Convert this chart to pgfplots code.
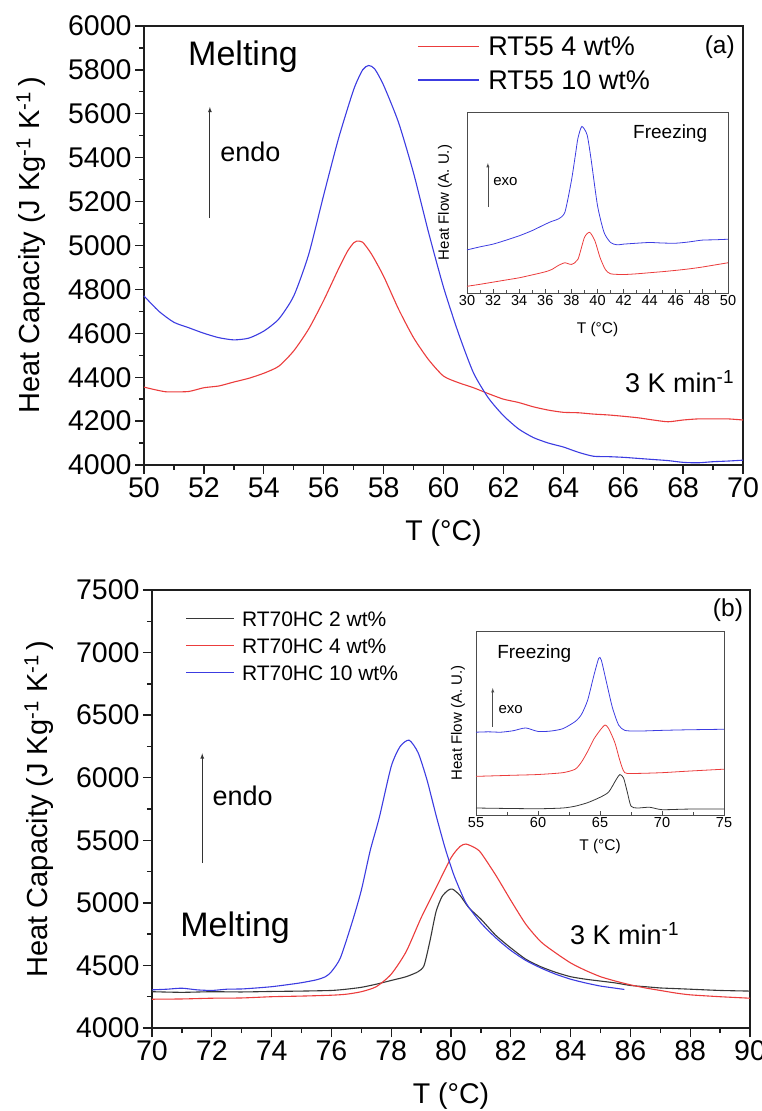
\documentclass[border=0pt]{standalone}
\usepackage{fontspec}
\setmainfont{Liberation Sans}
\usepackage{pgfplots}
\pgfplotsset{compat=1.18}
\definecolor{cr}{RGB}{235,60,60}
\definecolor{cb}{RGB}{60,60,225}
\definecolor{ck}{RGB}{55,55,55}
\definecolor{axc}{RGB}{30,30,30}
\newcommand{\fs}[1]{\fontsize{#1}{#1}\selectfont}
\pgfplotsset{
  mainax/.style={scale only axis, anchor=south west,
    axis line style={line width=1.6pt, axc},
    every tick/.style={line width=1.3pt, axc},
    tick align=outside, xtick pos=bottom, ytick pos=left,
    major tick length=9pt, minor tick length=5pt, minor tick num=1,
    ticklabel style={font=\fs{28.5}},
    /pgf/number format/assume math mode=true,
    /pgf/number format/1000 sep={},
    xlabel style={font=\fs{28.5}},
    ylabel style={font=\fs{29}},
    clip=false},
  inax/.style={scale only axis, anchor=south west,
    axis line style={line width=0.9pt, black!70},
    every tick/.style={line width=0.7pt, black!70},
    tick align=inside, xtick pos=bottom, ytick=\empty,
    major tick length=4pt, minor tick length=2.5pt,
    ticklabel style={font=\fs{14.5}, inner sep=2pt},
    /pgf/number format/assume math mode=true,
    xlabel style={font=\fs{15.5}},
    ylabel style={font=\fs{15}},
    ymin=0, ymax=100, clip=false},
}
\begin{document}
\begin{tikzpicture}
\useasboundingbox (0,0) rectangle (761pt,1111pt);
% ---------------- panel (a) ----------------
\begin{axis}[mainax, width=599pt, height=439pt, at={(144pt,646pt)},
  xmin=50, xmax=70, ymin=4000, ymax=6000,
  xtick={50,52,...,70}, ytick={4000,4200,...,6000},
  xlabel={T (°C)}, ylabel={Heat Capacity (J Kg\textsuperscript{-1} K\textsuperscript{-1}\,)},
  xlabel style={at={(axis description cs:0.5,-0.155)}, anchor=center},
  ylabel style={at={(axis description cs:-0.189,0.5)}, anchor=center},
  legend style={at={(axis description cs:0.4558,0.981)}, anchor=north west, draw=none, fill=none,
    inner sep=0pt, font=\fs{27}, row sep=10.5pt,
    nodes={inner sep=2pt, text height=19.3pt, text depth=0pt},
    /tikz/every odd column/.append style={column sep=7pt}},
  legend cell align=left,
  legend image code/.code={\draw[#1] (0pt,0pt) -- (61pt,0pt);},
]
\addplot[color=cr, line width=1.1pt, smooth, tension=0.4] coordinates {(50,4355)(50.3,4345)(50.7,4334)(51,4333)(51.5,4335)(52,4352)(52.5,4360)(53,4378)(53.5,4395)(54,4418)(54.5,4450)(55,4520)(55.5,4620)(56,4750)(56.5,4895)(56.8,4975)(57,5012)(57.1,5020)(57.3,5015)(57.6,4960)(58,4860)(58.5,4710)(59,4580)(59.5,4480)(60,4405)(60.5,4375)(61,4352)(61.5,4325)(62,4300)(62.5,4285)(63,4265)(63.5,4250)(64,4240)(64.5,4238)(65,4232)(65.5,4228)(66,4222)(66.5,4215)(67,4205)(67.5,4197)(68,4205)(68.5,4210)(69,4210)(69.5,4210)(70,4205)};
\addlegendentry{RT55 4 wt\%}
\addplot[color=cb, line width=1.1pt, smooth, tension=0.4] coordinates {(50,4770)(50.5,4700)(51,4650)(51.5,4625)(52,4600)(52.5,4580)(53,4570)(53.5,4578)(54,4610)(54.5,4665)(55,4770)(55.5,4960)(56,5230)(56.5,5490)(57,5710)(57.3,5800)(57.5,5820)(57.7,5805)(58,5730)(58.5,5560)(59,5330)(59.5,5060)(60,4810)(60.5,4600)(61,4420)(61.5,4305)(62,4225)(62.5,4165)(63,4125)(63.5,4100)(64,4082)(64.5,4058)(65,4040)(65.5,4038)(66,4035)(66.5,4030)(67,4025)(67.5,4020)(68,4012)(68.5,4010)(69,4015)(69.5,4018)(70,4022)};
\addlegendentry{RT55 10 wt\%}
\node[anchor=base west, inner sep=0pt, font=\fs{34}] at (axis cs:51.47,5819) {Melting};
\node[anchor=base west, inner sep=0pt, font=\fs{27}] at (axis cs:52.54,5382) {endo};
\draw[-latex, black!80, line width=0.8pt] (axis cs:52.2,5125) -- (axis cs:52.2,5631);
\node[anchor=east, inner sep=0pt, font=\fs{24.5}] at (axis cs:69.73,5904) {(a)};
\node[anchor=base west, inner sep=0pt, font=\fs{27}] at (axis cs:66.06,4328) {3 K min\textsuperscript{-1}};
\end{axis}
% inset (a)
\begin{axis}[inax, width=261pt, height=181pt, at={(467pt,818pt)},
  xmin=30, xmax=50, xtick={30,32,...,50}, minor x tick num=1,
  xlabel={T (°C)}, ylabel={Heat Flow (A. U.)},
  xlabel style={at={(axis description cs:0.5,-0.2)}, anchor=center},
  ylabel style={at={(axis description cs:-0.084,0.5)}, anchor=center},
]
\addplot[color=cb, line width=0.8pt, smooth, tension=0.4] coordinates {(30,23.8)(31,25.5)(32,27)(33,29.2)(34,31.6)(35,34.5)(36,38)(36.5,39.6)(37,40.9)(37.5,44.6)(38,62)(38.3,76)(38.5,85.5)(38.8,92)(39.2,87.4)(39.5,74.3)(40,48.3)(40.5,33.5)(41,27.9)(41.5,26.6)(42,27)(43,27.5)(44,27.9)(45,27.6)(46,27.5)(47,28.2)(48,29.2)(49,29.4)(50,29.7)};
\addplot[color=cr, line width=0.8pt, smooth, tension=0.4] coordinates {(30,3.7)(31,4.8)(32,6)(33,7.2)(34,8.4)(35,10)(36,11.7)(36.5,13)(37,15.2)(37.5,16.7)(38,15.8)(38.5,18.6)(39,30.7)(39.4,33.5)(39.8,28.8)(40.2,19.5)(40.6,13)(41,10.6)(42,10.2)(43,10.6)(44,11.2)(45,11.8)(46,12.5)(47,13.3)(48,14.3)(49,15.5)(50,16.7)};
\node[anchor=base west, inner sep=0pt, font=\fs{19}] at (axis cs:42.72,85.5) {Freezing};
\node[anchor=west, inner sep=0pt, font=\fs{15}] at (axis cs:32.0,61.3) {exo};
\draw[-latex, black!70, line width=0.5pt] (axis cs:31.6,47.5) -- (axis cs:31.6,71.8);
\end{axis}
% ---------------- panel (b) ----------------
\begin{axis}[mainax, width=598pt, height=438pt, at={(152pt,83pt)},
  xmin=70, xmax=90, ymin=4000, ymax=7500,
  xtick={70,72,...,90}, ytick={4000,4500,...,7500},
  xlabel={T (°C)}, ylabel={Heat Capacity (J Kg\textsuperscript{-1} K\textsuperscript{-1}\,)},
  xlabel style={at={(axis description cs:0.5,-0.155)}, anchor=center},
  ylabel style={at={(axis description cs:-0.189,0.5)}, anchor=center},
  legend style={at={(axis description cs:0.0564,0.957)}, anchor=north west, draw=none, fill=none,
    inner sep=0pt, font=\fs{21}, row sep=8pt,
    nodes={inner sep=2pt, text height=15pt, text depth=0pt},
    /tikz/every odd column/.append style={column sep=5.4pt}},
  legend cell align=left,
  legend image code/.code={\draw[#1] (0pt,0pt) -- (47.6pt,0pt);},
]
\addplot[color=ck, line width=1.1pt, smooth, tension=0.4] coordinates {(70,4290)(71,4285)(72,4290)(73,4288)(74,4292)(75,4295)(76,4300)(76.5,4310)(77,4325)(77.5,4350)(78,4380)(78.5,4410)(78.9,4450)(79.1,4500)(79.3,4700)(79.5,4930)(79.7,5050)(79.9,5100)(80.05,5110)(80.3,5060)(80.6,4960)(81,4870)(81.5,4740)(82,4640)(82.5,4550)(83,4490)(83.5,4445)(84,4410)(84.5,4390)(85,4375)(85.5,4360)(86,4340)(86.5,4330)(87,4320)(87.5,4315)(88,4310)(89,4300)(90,4295)};
\addlegendentry{RT70HC 2 wt\%}
\addplot[color=cr, line width=1.1pt, smooth, tension=0.4] coordinates {(70,4230)(71,4232)(72,4238)(73,4240)(74,4250)(75,4255)(76,4262)(76.5,4270)(77,4290)(77.5,4330)(78,4430)(78.5,4610)(79,4880)(79.5,5120)(80,5360)(80.3,5450)(80.5,5470)(80.8,5440)(81,5400)(81.5,5220)(82,5020)(82.5,4830)(83,4690)(83.5,4600)(84,4520)(84.5,4460)(85,4410)(85.5,4375)(86,4345)(86.5,4320)(87,4300)(87.5,4280)(88,4265)(89,4250)(90,4238)};
\addlegendentry{RT70HC 4 wt\%}
\addplot[color=cb, line width=1.1pt, smooth, tension=0.4] coordinates {(70,4305)(70.5,4310)(71,4318)(71.5,4305)(72,4300)(72.5,4310)(73,4312)(73.5,4320)(74,4330)(74.5,4345)(75,4362)(75.5,4385)(75.8,4410)(76,4450)(76.3,4560)(76.7,4850)(77,5100)(77.3,5420)(77.6,5680)(78,6090)(78.3,6250)(78.6,6300)(78.9,6200)(79.2,5980)(79.5,5700)(79.8,5440)(80.1,5220)(80.5,5000)(81,4840)(81.5,4720)(82,4620)(82.5,4540)(83,4480)(83.5,4430)(84,4390)(84.5,4360)(85,4335)(85.5,4318)(85.8,4308)};
\addlegendentry{RT70HC 10 wt\%}
\node[anchor=base west, inner sep=0pt, font=\fs{34}] at (axis cs:70.94,4731) {Melting};
\node[anchor=base west, inner sep=0pt, font=\fs{27}] at (axis cs:72.02,5777) {endo};
\draw[-latex, black!80, line width=0.8pt] (axis cs:71.68,5317) -- (axis cs:71.68,6194);
\node[anchor=east, inner sep=0pt, font=\fs{24.5}] at (axis cs:89.77,7340) {(b)};
\node[anchor=base west, inner sep=0pt, font=\fs{27}] at (axis cs:83.98,4670) {3 K min\textsuperscript{-1}};
\end{axis}
% inset (b)
\begin{axis}[inax, width=248pt, height=184pt, at={(476pt,296pt)},
  xmin=55, xmax=75, xtick={55,60,...,75}, minor x tick num=1,
  xlabel={T (°C)}, ylabel={Heat Flow (A. U.)},
  xlabel style={at={(axis description cs:0.5,-0.17)}, anchor=center},
  ylabel style={at={(axis description cs:-0.073,0.5)}, anchor=center},
]
\addplot[color=cb, line width=0.8pt, smooth, tension=0.4] coordinates {(55,45)(56,45.2)(57,45)(58,45.8)(59,47.3)(60,45.4)(61,45.6)(62,46.9)(63,50.8)(63.5,54.6)(64,62.3)(64.5,75.7)(64.9,85.2)(65.1,84.3)(65.5,72.8)(66,58.4)(66.5,48.9)(67,46)(68,45.6)(70,46)(72,46.3)(75,46.6)};
\addplot[color=cr, line width=0.8pt, smooth, tension=0.4] coordinates {(55,21)(58,21.6)(60,22)(62,23)(63,24.9)(63.5,28.7)(64,34.5)(64.5,41.2)(65,46)(65.4,48.9)(65.7,47)(66.2,39.3)(66.6,29.7)(67,23)(68,22.6)(70,23)(72,23.8)(75,24.9)};
\addplot[color=ck, line width=0.8pt, smooth, tension=0.4] coordinates {(55,3.8)(57,3.6)(60,3.4)(62,3.8)(63,4.8)(64,6.7)(65,9.6)(65.7,12.5)(66.3,19.2)(66.6,22)(66.9,20.1)(67.2,12.5)(67.5,4.8)(68,3.8)(69,4.2)(70,2.9)(72,3.2)(75,3.3)};
\node[anchor=base west, inner sep=0pt, font=\fs{19}] at (axis cs:56.7,85.2) {Freezing};
\node[anchor=west, inner sep=0pt, font=\fs{15}] at (axis cs:56.8,57.5) {exo};
\draw[-latex, black!70, line width=0.5pt] (axis cs:56.35,47.9) -- (axis cs:56.35,69);
\end{axis}
\end{tikzpicture}
\end{document}
